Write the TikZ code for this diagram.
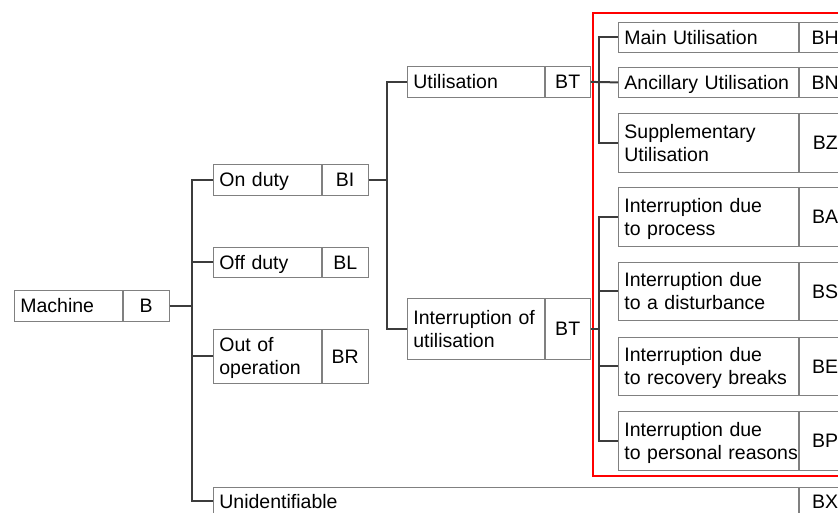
\documentclass[tikz,border=0pt]{standalone}
\usepackage{fontspec}
\setmainfont{Liberation Sans}
\usetikzlibrary{positioning}
\definecolor{boxgray}{HTML}{808080}
\definecolor{linegray}{HTML}{3C3C3C}
\definecolor{markred}{HTML}{FF0000}

\begin{document}
\begin{tikzpicture}[x=1pt, y=-1pt,
  font=\fontsize{19.5}{23}\selectfont,
  cat/.style 2 args={draw=boxgray, line width=0.8pt, anchor=north west, inner xsep=6pt, inner ysep=0pt,
    align=left, text width=#1, minimum height=#2, text height=18pt, text depth=4pt},
  tag/.style 2 args={draw=boxgray, line width=0.8pt, inner sep=0pt, minimum width=#1, minimum height=#2,
    text height=18pt, text depth=4pt},
  twoline/.style={text depth=27pt},
  conn/.style={draw=linegray, line width=2pt},
  redbox/.style={draw=markred, line width=2pt}]

  \useasboundingbox (0,0) rectangle (838,513);
  \clip (0,0) rectangle (838,513);

  % Marked area
  \draw[redbox] (593,13) rectangle (850,476);

  % Root
  \node[cat={96pt}{31pt}] (mach) at (14,290) {Machine};
  \node[tag={46pt}{31pt}, right=0pt of mach] (machc) {B};

  % First level
  \node[cat={96pt}{31pt}] (ond) at (213,164) {On duty};
  \node[tag={46pt}{31pt}, right=0pt of ond] (ondc) {BI};
  \node[cat={96pt}{30pt}] (offd) at (213,247) {Off duty};
  \node[tag={46pt}{30pt}, right=0pt of offd] (offdc) {BL};
  \node[cat={96pt}{54pt}, twoline] (outop) at (213,329) {Out of\\operation};
  \node[tag={46pt}{54pt}, right=0pt of outop] (outopc) {BR};
  \node[cat={573pt}{28pt}] (unid) at (213,487) {Unidentifiable};
  \node[tag={52pt}{28pt}, right=0pt of unid] (unidc) {BX};

  % Second level
  \node[cat={125pt}{31pt}] (util) at (407,66) {Utilisation};
  \node[tag={45pt}{31pt}, right=0pt of util] (utilc) {BT};
  \node[cat={125pt}{61pt}, twoline] (intu) at (407,298) {Interruption of\\utilisation};
  \node[tag={45pt}{61pt}, right=0pt of intu] (intuc) {BT};

  % Third level
  \node[cat={168pt}{30pt}] (mainu) at (618,22) {Main Utilisation};
  \node[tag={52pt}{30pt}, right=0pt of mainu] (mainuc) {BH};
  \node[cat={168pt}{30pt}] (ancu) at (618,67) {Ancillary Utilisation};
  \node[tag={52pt}{30pt}, right=0pt of ancu] (ancuc) {BN};
  \node[cat={168pt}{59pt}, twoline] (supu) at (618,113) {Supplementary\\Utilisation};
  \node[tag={52pt}{59pt}, right=0pt of supu] (supuc) {BZ};
  \node[cat={168pt}{59pt}, twoline] (intp) at (618,187) {Interruption due\\to process};
  \node[tag={52pt}{59pt}, right=0pt of intp] (intpc) {BA};
  \node[cat={168pt}{58pt}, twoline] (intd) at (618,262) {Interruption due\\to a disturbance};
  \node[tag={52pt}{58pt}, right=0pt of intd] (intdc) {BS};
  \node[cat={168pt}{58pt}, twoline] (intr) at (618,337) {Interruption due\\to recovery breaks};
  \node[tag={52pt}{58pt}, right=0pt of intr] (intrc) {BE};
  \node[cat={168pt}{59pt}, twoline] (intpr) at (618,411) {Interruption due\\\mbox{to personal reasons}};
  \node[tag={52pt}{59pt}, right=0pt of intpr] (intprc) {BP};

  % Trunks
  \coordinate (j1) at (192,0);
  \coordinate (j2) at (387,0);
  \coordinate (j3) at (599,0);

  % Root to first level
  \draw[conn] (machc.east) -- (machc.east -| j1);
  \draw[conn] (ond.west) -- (ond.west -| j1) |- (unid.west);
  \draw[conn] (offd.west) -- (offd.west -| j1);
  \draw[conn] (outop.west) -- (outop.west -| j1);

  % On duty to second level
  \draw[conn] (ondc.east) -- (ondc.east -| j2);
  \draw[conn] (util.west) -- (util.west -| j2) |- (intu.west);

  % Second to third level
  \draw[conn] (mainu.west) -- (mainu.west -| j3) |- (supu.west);
  \draw[conn] (utilc.east) -- (ancu.west);
  \draw[conn] (intp.west) -- (intp.west -| j3) |- (intpr.west);
  \draw[conn] (intd.west) -- (intd.west -| j3);
  \draw[conn] (intr.west) -- (intr.west -| j3);
  \draw[conn] (intuc.east) -- (intuc.east -| j3);

\end{tikzpicture}
\end{document}
